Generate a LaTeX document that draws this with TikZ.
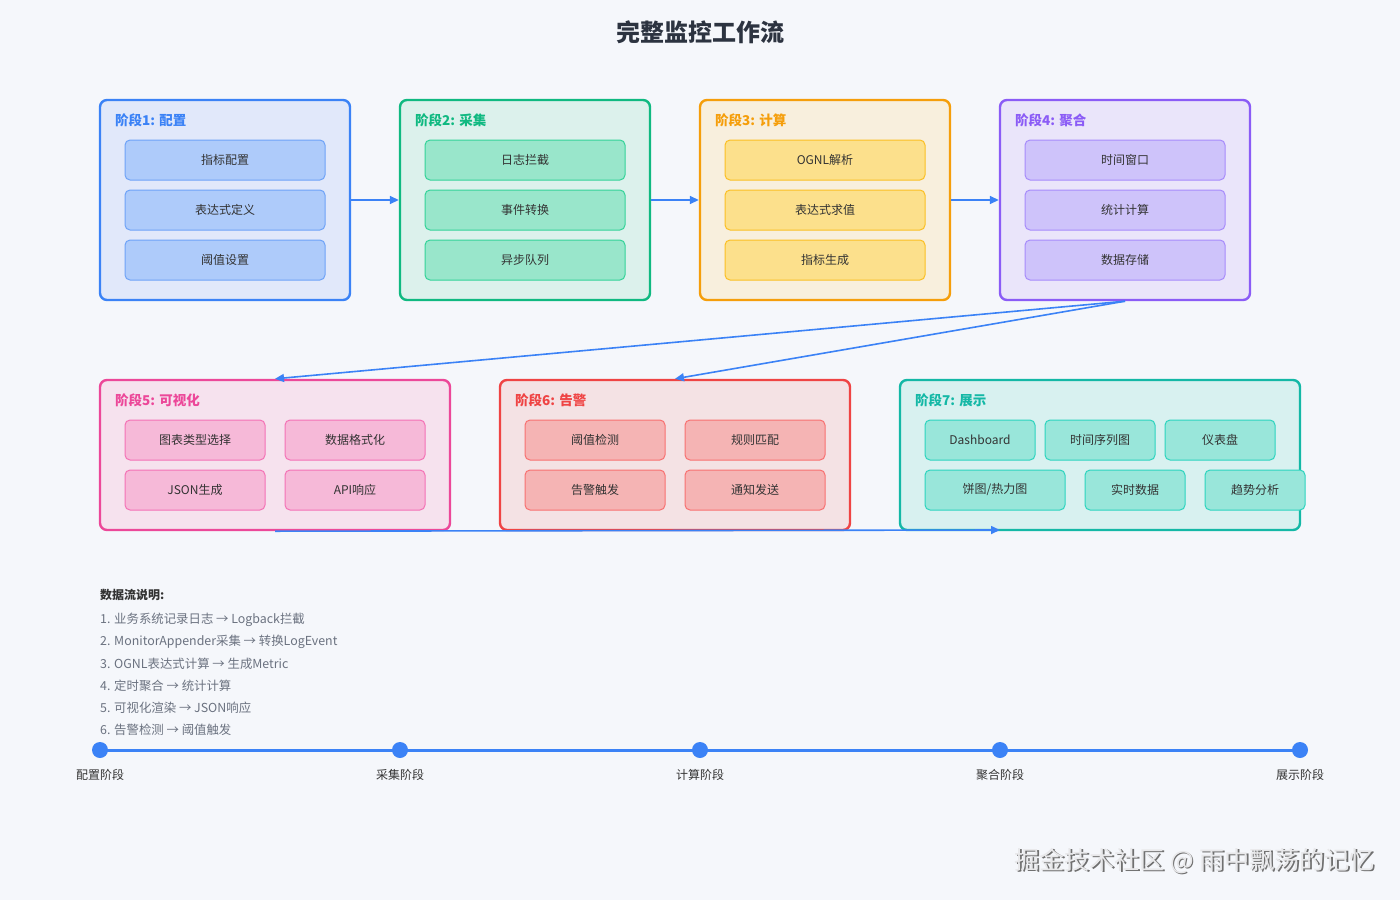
\documentclass[tikz,border=0pt]{standalone}
\usepackage{fontspec}
\setmainfont{Noto Sans CJK SC}
\usetikzlibrary{arrows.meta}
\definecolor{bg}{HTML}{F5F7FB}
\definecolor{ttl}{HTML}{2C3340}
\definecolor{txt}{HTML}{333333}
\definecolor{gtxt}{HTML}{6B7280}
\definecolor{flow}{HTML}{3B82F6}
% stage colours: border, fill, inner fill, inner border
\definecolor{b1}{HTML}{3B82F6}\definecolor{f1}{HTML}{E1E8FA}\definecolor{i1}{HTML}{AECBFA}\definecolor{j1}{HTML}{6FA3F7}
\definecolor{b2}{HTML}{10B981}\definecolor{f2}{HTML}{DCF1EC}\definecolor{i2}{HTML}{99E6CB}\definecolor{j2}{HTML}{34D399}
\definecolor{b3}{HTML}{F59E0B}\definecolor{f3}{HTML}{F8EFDD}\definecolor{i3}{HTML}{FCE08C}\definecolor{j3}{HTML}{FBBF24}
\definecolor{b4}{HTML}{8B5CF6}\definecolor{f4}{HTML}{EAE5FA}\definecolor{i4}{HTML}{CEC3FA}\definecolor{j4}{HTML}{A78BFA}
\definecolor{b5}{HTML}{EC4899}\definecolor{f5}{HTML}{F6E2EE}\definecolor{i5}{HTML}{F6B9D8}\definecolor{j5}{HTML}{F472B6}
\definecolor{b6}{HTML}{EF4444}\definecolor{f6}{HTML}{F4E2E4}\definecolor{i6}{HTML}{F5B4B4}\definecolor{j6}{HTML}{F87171}
\definecolor{b7}{HTML}{14B8A6}\definecolor{f7}{HTML}{D8F1F0}\definecolor{i7}{HTML}{99E6DA}\definecolor{j7}{HTML}{2DD4BF}
\definecolor{wm}{HTML}{E8E8EA}
\definecolor{wms}{HTML}{707070}
\tikzset{
  stagebox/.style={draw=#1, line width=2.4pt, rounded corners=7pt, inner sep=0pt},
  stagetitle/.style={anchor=west, text=#1, font=\fontsize{13.5}{15}\selectfont\bfseries, inner sep=0pt},
  itembox/.style={draw=#1, line width=1pt, rounded corners=5pt, inner sep=0pt, minimum height=40pt, text=txt, font=\fontsize{12}{14}\selectfont},
  flowarrow/.style={draw=flow, line width=1.6pt, -{Triangle[length=9pt,width=8pt]}},
  flowline/.style={anchor=west, inner sep=0pt, text=gtxt, font=\fontsize{12.4}{14}\selectfont},
  tdot/.style={circle, fill=flow, minimum size=16pt, inner sep=0pt},
  tlabel/.style={inner sep=0pt, text=txt, font=\fontsize{12}{14}\selectfont},
}
\begin{document}
\begin{tikzpicture}[x=1pt,y=-1pt]
\fill[bg] (0,0) rectangle (1400,900);
\useasboundingbox (0,0) rectangle (1400,900);

\node[text=ttl, font=\fontsize{24}{28}\selectfont\bfseries, inner sep=0pt] (title) at (700,32) {完整监控工作流};

% ---- row 1 ----
\node[stagebox=b1, fill=f1, minimum width=250pt, minimum height=200pt] (s1) at (225,200) {};
\node[stagebox=b2, fill=f2, minimum width=250pt, minimum height=200pt] (s2) at (525,200) {};
\node[stagebox=b3, fill=f3, minimum width=250pt, minimum height=200pt] (s3) at (825,200) {};
\node[stagebox=b4, fill=f4, minimum width=250pt, minimum height=200pt] (s4) at (1125,200) {};

\node[stagetitle=b1] (t1) at (115,120) {阶段1: 配置};
\node[stagetitle=b2] (t2) at (415,120) {阶段2: 采集};
\node[stagetitle=b3] (t3) at (715,120) {阶段3: 计算};
\node[stagetitle=b4] (t4) at (1015,120) {阶段4: 聚合};

\node[itembox=j1, fill=i1, minimum width=200pt] (a11) at (225,160) {指标配置};
\node[itembox=j1, fill=i1, minimum width=200pt] (a12) at (225,210) {表达式定义};
\node[itembox=j1, fill=i1, minimum width=200pt] (a13) at (225,260) {阈值设置};

\node[itembox=j2, fill=i2, minimum width=200pt] (a21) at (525,160) {日志拦截};
\node[itembox=j2, fill=i2, minimum width=200pt] (a22) at (525,210) {事件转换};
\node[itembox=j2, fill=i2, minimum width=200pt] (a23) at (525,260) {异步队列};

\node[itembox=j3, fill=i3, minimum width=200pt] (a31) at (825,160) {OGNL解析};
\node[itembox=j3, fill=i3, minimum width=200pt] (a32) at (825,210) {表达式求值};
\node[itembox=j3, fill=i3, minimum width=200pt] (a33) at (825,260) {指标生成};

\node[itembox=j4, fill=i4, minimum width=200pt] (a41) at (1125,160) {时间窗口};
\node[itembox=j4, fill=i4, minimum width=200pt] (a42) at (1125,210) {统计计算};
\node[itembox=j4, fill=i4, minimum width=200pt] (a43) at (1125,260) {数据存储};

\draw[flowarrow] (s1.east) -- (s2.west);
\draw[flowarrow] (s2.east) -- (s3.west);
\draw[flowarrow] (s3.east) -- (s4.west);

% ---- row 2 ----
\node[stagebox=b5, fill=f5, minimum width=350pt, minimum height=150pt] (s5) at (275,455) {};
\node[stagebox=b6, fill=f6, minimum width=350pt, minimum height=150pt] (s6) at (675,455) {};
\node[stagebox=b7, fill=f7, minimum width=400pt, minimum height=150pt] (s7) at (1100,455) {};

\node[stagetitle=b5] (t5) at (115,400) {阶段5: 可视化};
\node[stagetitle=b6] (t6) at (515,400) {阶段6: 告警};
\node[stagetitle=b7] (t7) at (915,400) {阶段7: 展示};

\node[itembox=j5, fill=i5, minimum width=140pt] (a51) at (195,440) {图表类型选择};
\node[itembox=j5, fill=i5, minimum width=140pt] (a52) at (355,440) {数据格式化};
\node[itembox=j5, fill=i5, minimum width=140pt] (a53) at (195,490) {JSON生成};
\node[itembox=j5, fill=i5, minimum width=140pt] (a54) at (355,490) {API响应};

\node[itembox=j6, fill=i6, minimum width=140pt] (a61) at (595,440) {阈值检测};
\node[itembox=j6, fill=i6, minimum width=140pt] (a62) at (755,440) {规则匹配};
\node[itembox=j6, fill=i6, minimum width=140pt] (a63) at (595,490) {告警触发};
\node[itembox=j6, fill=i6, minimum width=140pt] (a64) at (755,490) {通知发送};

\node[itembox=j7, fill=i7, minimum width=110pt] (a71) at (980,440) {Dashboard};
\node[itembox=j7, fill=i7, minimum width=110pt] (a72) at (1100,440) {时间序列图};
\node[itembox=j7, fill=i7, minimum width=110pt] (a73) at (1220,440) {仪表盘};
\node[itembox=j7, fill=i7, minimum width=140pt] (a74) at (995,490) {饼图/热力图};
\node[itembox=j7, fill=i7, minimum width=100pt] (a75) at (1135,490) {实时数据};
\node[itembox=j7, fill=i7, minimum width=100pt] (a76) at (1255,490) {趋势分析};

\draw[flowarrow] (s4.south) -- (s5.north);
\draw[flowarrow] (s4.south) -- (s6.north);
\coordinate (e7) at (1000,530);
\draw[flowarrow] (s5.south) -- (e7);

% ---- data flow notes ----
\node[anchor=west, inner sep=0pt, text=txt, font=\fontsize{12}{14}\selectfont\bfseries] (dh) at (100,595) {数据流说明:};
\node[flowline] (d1) at (100,620) {1. 业务系统记录日志 → Logback拦截};
\node[flowline] (d2) at (100,642) {2. MonitorAppender采集 → 转换LogEvent};
\node[flowline] (d3) at (100,664) {3. OGNL表达式计算 → 生成Metric};
\node[flowline] (d4) at (100,686) {4. 定时聚合 → 统计计算};
\node[flowline] (d5) at (100,708) {5. 可视化渲染 → JSON响应};
\node[flowline] (d6) at (100,730) {6. 告警检测 → 阈值触发};

% ---- timeline ----
\coordinate (p1) at (100,750);
\coordinate (p5) at (1300,750);
\draw[flow, line width=3pt] (p1) -- (p5);
\node[tdot] (q1) at (100,750) {};
\node[tdot] (q2) at (400,750) {};
\node[tdot] (q3) at (700,750) {};
\node[tdot] (q4) at (1000,750) {};
\node[tdot] (q5) at (1300,750) {};
\node[tlabel] (l1) at (100,775) {配置阶段};
\node[tlabel] (l2) at (400,775) {采集阶段};
\node[tlabel] (l3) at (700,775) {计算阶段};
\node[tlabel] (l4) at (1000,775) {聚合阶段};
\node[tlabel] (l5) at (1300,775) {展示阶段};

% ---- watermark ----
\node[anchor=east, inner sep=0pt, text=wms, font=\fontsize{25}{28}\selectfont] (wm2) at (1376.2,862.2) {掘金技术社区 @ 雨中飘荡的记忆};
\node[anchor=east, inner sep=0pt, text=wm, font=\fontsize{25}{28}\selectfont] (wm1) at (1375,861) {掘金技术社区 @ 雨中飘荡的记忆};
\end{tikzpicture}
\end{document}
